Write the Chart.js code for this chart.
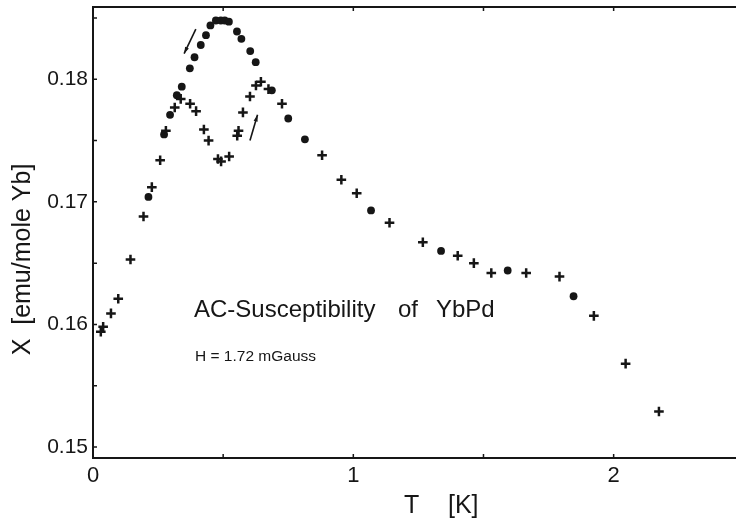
<!DOCTYPE html>
<html>
<head>
<meta charset="utf-8">
<script src="https://cdn.jsdelivr.net/npm/chart.js@4.4.1/dist/chart.umd.min.js"></script>
<style>
  html, body { margin: 0; padding: 0; background: #fff; }
  #wrap { width: 736px; height: 523px; }
</style>
</head>
<body>
<div id="wrap"><canvas id="chart"></canvas></div>
<script>
// Datos: T [K] y susceptibilidad [emu/mole Yb]
// Cruces (+)
const crossT = [0.030, 0.039, 0.069, 0.097, 0.144, 0.194, 0.226, 0.258, 0.280, 0.314, 0.337,
  0.373, 0.396, 0.426, 0.444, 0.480, 0.492, 0.523, 0.554, 0.559, 0.576, 0.603, 0.626, 0.645,
  0.674, 0.726, 0.880, 0.954, 1.013, 1.139, 1.267, 1.401, 1.463, 1.530, 1.664, 1.792, 1.924,
  2.046, 2.174];
const crossChi = [0.1594, 0.1598, 0.1609, 0.1621, 0.1653, 0.1688, 0.1712, 0.1734, 0.1758, 0.1777, 0.1784,
  0.1780, 0.1774, 0.1759, 0.1750, 0.1735, 0.1733, 0.1737, 0.1754, 0.1758, 0.1773, 0.1786, 0.1795, 0.1798,
  0.1792, 0.1780, 0.1738, 0.1718, 0.1707, 0.1683, 0.1667, 0.1656, 0.1650, 0.1642, 0.1642, 0.1639, 0.1607,
  0.1568, 0.1529];

// Puntos (●)
const dotT = [0.213, 0.273, 0.296, 0.322, 0.341, 0.372, 0.390, 0.414, 0.434, 0.451, 0.472,
  0.491, 0.506, 0.522, 0.553, 0.570, 0.604, 0.625, 0.687, 0.750, 0.814, 1.068, 1.337, 1.593, 1.846];
const dotChi = [0.1704, 0.1755, 0.1771, 0.1787, 0.1794, 0.1809, 0.1818, 0.1828, 0.1836, 0.1844, 0.1848,
  0.1848, 0.1848, 0.1847, 0.1839, 0.1833, 0.1823, 0.1814, 0.1791, 0.1768, 0.1751, 0.1693, 0.1660, 0.1644, 0.1623];

// Ejes y marcas
const xMin = 0, xMax = 2.47;
const yMin = 0.1491, yMax = 0.1859;
const xTicks = [0, 0.5, 1, 1.5, 2];
const xTickLabels = ['0', '', '1', '', '2'];
const yTicks = [0.150, 0.155, 0.160, 0.165, 0.170, 0.175, 0.180, 0.185];
const yTickLabels = ['0.15', '', '0.16', '', '0.17', '', '0.18', ''];

// Flechas (en unidades de datos): [T0, chi0, T1, chi1], punta en (T1, chi1)
const arrows = [
  [0.395, 0.1841, 0.350, 0.1821],
  [0.603, 0.1750, 0.632, 0.1771]
];

const INK = '#161616';
const FONT = "'Liberation Sans', Arial, sans-serif";

const toPoints = (xs, ys) => xs.map((x, i) => ({ x, y: ys[i] }));

// Marco, marcas hacia adentro, flechas y textos
const framePlugin = {
  id: 'frame',
  afterDraw(chart) {
    const { ctx, chartArea: a, scales } = chart;
    const sx = scales.x, sy = scales.y;
    ctx.save();
    ctx.strokeStyle = INK;
    ctx.fillStyle = INK;

    // marco (sin borde derecho, cortado en la imagen)
    ctx.lineWidth = 2;
    ctx.beginPath();
    ctx.moveTo(a.right, a.top);
    ctx.lineTo(a.left, a.top);
    ctx.lineTo(a.left, a.bottom);
    ctx.lineTo(a.right, a.bottom);
    ctx.stroke();

    // marcas
    ctx.lineWidth = 1.5;
    ctx.beginPath();
    xTicks.forEach(v => {
      const px = sx.getPixelForValue(v);
      ctx.moveTo(px, a.bottom); ctx.lineTo(px, a.bottom - 4);
      ctx.moveTo(px, a.top); ctx.lineTo(px, a.top + 4);
    });
    yTicks.forEach(v => {
      const py = sy.getPixelForValue(v);
      ctx.moveTo(a.left, py); ctx.lineTo(a.left + 4, py);
    });
    ctx.stroke();

    // flechas
    ctx.lineWidth = 1.6;
    arrows.forEach(([t0, c0, t1, c1]) => {
      const x0 = sx.getPixelForValue(t0), y0 = sy.getPixelForValue(c0);
      const x1 = sx.getPixelForValue(t1), y1 = sy.getPixelForValue(c1);
      const ang = Math.atan2(y1 - y0, x1 - x0);
      ctx.beginPath();
      ctx.moveTo(x0, y0); ctx.lineTo(x1, y1);
      ctx.stroke();
      ctx.beginPath();
      ctx.moveTo(x1, y1);
      ctx.lineTo(x1 - 7 * Math.cos(ang - 0.3), y1 - 7 * Math.sin(ang - 0.3));
      ctx.lineTo(x1 - 7 * Math.cos(ang + 0.3), y1 - 7 * Math.sin(ang + 0.3));
      ctx.closePath();
      ctx.fill();
    });

    // textos dentro del gráfico
    ctx.textBaseline = 'alphabetic';
    ctx.textAlign = 'left';
    const tx = sx.getPixelForValue(0.388);
    const ty = sy.getPixelForValue(0.1606);
    ctx.font = '24px ' + FONT;
    ctx.fillText('AC-Susceptibility', tx, ty);
    ctx.fillText('of', tx + 204, ty);
    ctx.fillText('YbPd', tx + 242, ty);
    ctx.font = '15.5px ' + FONT;
    ctx.fillText('H = 1.72 mGauss', tx + 1, ty + 44);

    // títulos de ejes
    ctx.font = '25px ' + FONT;
    ctx.textBaseline = 'middle';
    ctx.fillText('T', a.left + 311, a.bottom + 48);
    ctx.fillText('[K]', a.left + 355, a.bottom + 48);

    ctx.translate(23, (a.top + a.bottom) / 2 + 27);
    ctx.rotate(-Math.PI / 2);
    ctx.textAlign = 'center';
    ctx.fillText('X  [emu/mole Yb]', 0, 0);
    ctx.restore();
  }
};

new Chart(document.getElementById('chart'), {
  type: 'scatter',
  data: {
    datasets: [
      {
        label: 'crosses',
        data: toPoints(crossT, crossChi),
        pointStyle: 'cross',
        pointRadius: 4.8,
        borderWidth: 2.5,
        borderColor: INK,
        backgroundColor: INK
      },
      {
        label: 'dots',
        data: toPoints(dotT, dotChi),
        pointStyle: 'circle',
        pointRadius: 3.9,
        borderWidth: 0,
        borderColor: INK,
        backgroundColor: INK
      }
    ]
  },
  options: {
    responsive: true,
    maintainAspectRatio: false,
    animation: false,
    layout: { autoPadding: false, padding: { top: 7, right: 0, bottom: 0, left: 0 } },
    plugins: {
      legend: { display: false },
      tooltip: { enabled: false }
    },
    scales: {
      x: {
        type: 'linear',
        position: 'bottom',
        min: xMin,
        max: xMax,
        grid: { display: false, drawTicks: false },
        border: { display: false },
        afterBuildTicks: s => { s.ticks = xTicks.map(value => ({ value })); },
        afterFit: s => { s.height = 65; s.paddingRight = 0; },
        ticks: {
          autoSkip: false,
          maxRotation: 0,
          padding: 5,
          color: INK,
          font: { family: FONT, size: 22 },
          callback: (v, i) => xTickLabels[i]
        }
      },
      y: {
        type: 'linear',
        min: yMin,
        max: yMax,
        grid: { display: false, drawTicks: false },
        border: { display: false },
        afterBuildTicks: s => { s.ticks = yTicks.map(value => ({ value })); },
        afterFit: s => { s.width = 93; s.paddingTop = 0; },
        ticks: {
          autoSkip: false,
          padding: 5,
          color: INK,
          font: { family: FONT, size: 21 },
          callback: (v, i) => yTickLabels[i]
        }
      }
    }
  },
  plugins: [framePlugin]
});
</script>
</body>
</html>
